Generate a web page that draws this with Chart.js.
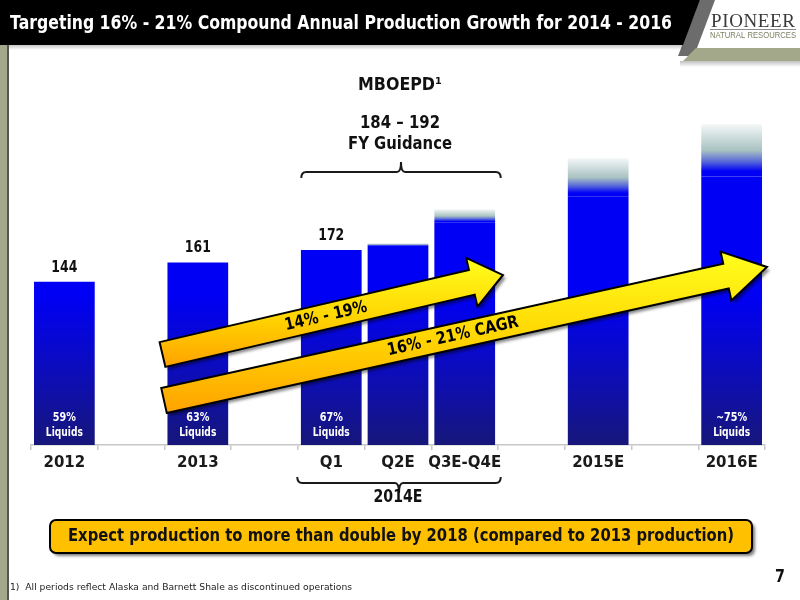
<!DOCTYPE html>
<html lang="en">
<head>
<meta charset="UTF-8">
<title>Targeting 16% - 21% Compound Annual Production Growth for 2014 - 2016</title>
<script src="https://cdn.jsdelivr.net/npm/chart.js"></script>
<style>
  html, body { margin: 0; padding: 0; background: #fff; }
  #wrap { width: 800px; height: 600px; position: relative; }
</style>
</head>
<body>
<div id="wrap"><canvas id="prod-chart"></canvas></div>
<script>
const categories = ['2012', '', '2013', '', 'Q1', 'Q2E', 'Q3E-Q4E', '', '2015E', '', '2016E'];
// solid part of each bar, MBOEPD
const lowValues = [144, null, 161, null, 172, 176, 196, null, 219, null, 237];
// top of the faded guidance range (null = no range)
const highValues = [null, null, null, null, null, 178, 208, null, 253, null, 283];
const valueLabels = ['144', '', '161', '', '172', '', '', '', '', '', ''];
const liquidsLabels = ['59%', '', '63%', '', '67%', '', '', '', '', '', '~75%'];

const rangeValues = highValues.map((h, i) => h === null ? null : h - lowValues[i]);

const FONT = '"DejaVu Sans", Verdana, sans-serif';

// draws text squeezed horizontally (to a target width, or by 0.84)
function fitText(ctx, s, x, y, font, width, color, align) {
    ctx.save();
    ctx.font = font;
    ctx.fillStyle = color;
    ctx.textBaseline = 'middle';
    ctx.textAlign = 'left';
    const w = ctx.measureText(s).width;
    const k = width ? width / w : 0.84;
    const drawn = w * k;
    const left = align === 'left' ? x : (align === 'right' ? x - drawn : x - drawn / 2);
    ctx.translate(left, y);
    ctx.scale(k, 1);
    ctx.fillText(s, 0, 0);
    ctx.restore();
}

function drawArrow(ctx, tail, tip, w, hw, hl) {
    const dx = tip[0] - tail[0], dy = tip[1] - tail[1];
    const len = Math.hypot(dx, dy);
    const ux = dx / len, uy = dy / len, nx = -uy, ny = ux;
    const bx = tip[0] - ux * hl, by = tip[1] - uy * hl;
    const pts = [
        [tail[0] + nx * w, tail[1] + ny * w],
        [bx + nx * w, by + ny * w],
        [bx + nx * hw, by + ny * hw],
        tip,
        [bx - nx * hw, by - ny * hw],
        [bx - nx * w, by - ny * w],
        [tail[0] - nx * w, tail[1] - ny * w]
    ];
    const ys = pts.map(p => p[1]);
    const g = ctx.createLinearGradient(0, Math.min(...ys), 0, Math.max(...ys));
    g.addColorStop(0, '#ffff1e');
    g.addColorStop(0.55, '#ffd400');
    g.addColorStop(1, '#ffa200');
    ctx.save();
    ctx.beginPath();
    pts.forEach((p, i) => i ? ctx.lineTo(p[0], p[1]) : ctx.moveTo(p[0], p[1]));
    ctx.closePath();
    ctx.shadowColor = 'rgba(0,0,0,0.45)';
    ctx.shadowOffsetX = 3;
    ctx.shadowOffsetY = 3;
    ctx.shadowBlur = 3;
    ctx.fillStyle = g;
    ctx.fill();
    ctx.shadowColor = 'transparent';
    ctx.lineWidth = 2;
    ctx.strokeStyle = '#000';
    ctx.lineJoin = 'miter';
    ctx.stroke();
    ctx.restore();
    return Math.atan2(dy, dx);
}

// curly bracket, dir = 1 opens downward (notch up), -1 opens upward (notch down)
function drawBrace(ctx, x1, x2, y, dir) {
    const cx = (x1 + x2) / 2;
    const end = y + 6 * dir, notch = y - 10 * dir;
    ctx.save();
    ctx.strokeStyle = '#1a1a1a';
    ctx.lineWidth = 2;
    ctx.beginPath();
    ctx.moveTo(x1, end);
    ctx.quadraticCurveTo(x1, y, x1 + 5, y);
    ctx.lineTo(cx - 4, y);
    ctx.quadraticCurveTo(cx, y, cx, notch);
    ctx.quadraticCurveTo(cx, y, cx + 4, y);
    ctx.lineTo(x2 - 5, y);
    ctx.quadraticCurveTo(x2, y, x2, end);
    ctx.stroke();
    ctx.restore();
}

const slidePlugin = {
    id: 'slide',
    beforeDraw(chart) {
        const ctx = chart.ctx;
        ctx.save();
        ctx.fillStyle = '#fff';
        ctx.fillRect(0, 0, 800, 600);

        // header bar
        ctx.fillStyle = '#6c6c6c';
        ctx.beginPath();
        ctx.moveTo(700, 0); ctx.lineTo(715, 0); ctx.lineTo(694, 56); ctx.lineTo(678, 56);
        ctx.closePath(); ctx.fill();
        ctx.fillStyle = '#000';
        ctx.beginPath();
        ctx.moveTo(0, 0); ctx.lineTo(700, 0); ctx.lineTo(683, 45); ctx.lineTo(0, 45);
        ctx.closePath(); ctx.fill();

        // olive band under the logo
        const sh = ctx.createLinearGradient(0, 61, 0, 67);
        sh.addColorStop(0, 'rgba(0,0,0,0.25)');
        sh.addColorStop(1, 'rgba(0,0,0,0)');
        ctx.fillStyle = sh;
        ctx.fillRect(680, 61, 120, 6);
        ctx.fillStyle = '#a3a88b';
        ctx.beginPath();
        ctx.moveTo(696, 48); ctx.lineTo(800, 48); ctx.lineTo(800, 61); ctx.lineTo(683, 61);
        ctx.closePath(); ctx.fill();

        // faint shadow under the black bar
        const hs = ctx.createLinearGradient(0, 45, 0, 50);
        hs.addColorStop(0, 'rgba(0,0,0,0.22)');
        hs.addColorStop(1, 'rgba(0,0,0,0)');
        ctx.fillStyle = hs;
        ctx.fillRect(0, 45, 683, 5);

        // left edge stripe
        ctx.fillStyle = '#a3a88b';
        ctx.fillRect(0, 45, 7, 555);
        ctx.fillStyle = '#555';
        ctx.fillRect(7, 45, 2, 555);
        ctx.restore();

        fitText(ctx, 'Targeting 16% - 21% Compound Annual Production Growth for 2014 - 2016',
            10, 24, 'bold 19px ' + FONT, 662, '#fff', 'left');

        // logo
        ctx.save();
        ctx.font = '19px "Liberation Serif", "DejaVu Serif", serif';
        ctx.fillStyle = '#3a3a3a';
        ctx.textBaseline = 'alphabetic';
        ctx.textAlign = 'left';
        const letters = 'PIONEER'.split('');
        const lw = letters.map(c => ctx.measureText(c).width);
        const gap = (84 - lw.reduce((a, b) => a + b, 0)) / (letters.length - 1);
        let lx = 711;
        letters.forEach((c, i) => { ctx.fillText(c, lx, 27); lx += lw[i] + gap; });
        ctx.fillStyle = '#8a8a8a';
        ctx.fillRect(710, 29, 86, 1);
        ctx.restore();
        fitText(ctx, 'NATURAL RESOURCES', 710, 36, '9px "Liberation Sans", Arial, sans-serif', 86, '#7b8163', 'left');
    },
    afterDatasetsDraw(chart) {
        const ctx = chart.ctx;
        const x = chart.scales.x;
        const area = chart.chartArea;
        const base = chart.getDatasetMeta(0).data;

        // labels on and above bars
        base.forEach((bar, i) => {
            if (lowValues[i] === null) return;
            if (valueLabels[i]) {
                fitText(ctx, valueLabels[i], bar.x, bar.y - 14, 'bold 15px ' + FONT, 26, '#111', 'center');
            }
            if (liquidsLabels[i]) {
                fitText(ctx, liquidsLabels[i], bar.x, area.bottom - 27, 'bold 11.5px ' + FONT, null, '#fff', 'center');
                fitText(ctx, 'Liquids', bar.x, area.bottom - 12, 'bold 11.5px ' + FONT, 37, '#fff', 'center');
            }
        });

        fitText(ctx, 'MBOEPD\u00b9', 400, 86, 'bold 17px ' + FONT, 84, '#111', 'center');
        fitText(ctx, '184 \u2013 192', 400, 124, 'bold 17px ' + FONT, 80, '#111', 'center');
        fitText(ctx, 'FY Guidance', 400, 145, 'bold 17px ' + FONT, 104, '#111', 'center');

        drawBrace(ctx, x.getPixelForValue(4) - 30, x.getPixelForValue(6) + 36, 172, 1);
        drawBrace(ctx, x.getPixelForValue(4) - 34, x.getPixelForValue(6) + 36, 483, -1);
        fitText(ctx, '2014E', 398, 498, 'bold 17px ' + FONT, 49, '#111', 'center');

        // growth arrows
        const a1 = drawArrow(ctx, [162.5, 354.5], [503, 275], 12.7, 25, 32);
        const a2 = drawArrow(ctx, [164, 400.5], [767, 267], 12.7, 25, 42);
        ctx.save();
        ctx.translate(326, 316.5);
        ctx.rotate(a1);
        fitText(ctx, '14% - 19%', 0, 0, 'bold 17px ' + FONT, 84, '#000', 'center');
        ctx.restore();
        ctx.save();
        ctx.translate(453, 336.5);
        ctx.rotate(a2);
        fitText(ctx, '16% - 21% CAGR', 0, 0, 'bold 17px ' + FONT, 134, '#000', 'center');
        ctx.restore();

        // call-out box
        ctx.save();
        ctx.beginPath();
        ctx.roundRect(50, 520, 702, 33, 6);
        ctx.shadowColor = 'rgba(0,0,0,0.5)';
        ctx.shadowOffsetX = 3;
        ctx.shadowOffsetY = 3;
        ctx.shadowBlur = 3;
        ctx.fillStyle = '#ffc000';
        ctx.fill();
        ctx.shadowColor = 'transparent';
        ctx.lineWidth = 2;
        ctx.strokeStyle = '#000';
        ctx.stroke();
        ctx.restore();
        fitText(ctx, 'Expect production to more than double by 2018 (compared to 2013 production)',
            401, 537, 'bold 17px ' + FONT, 666, '#111', 'center');

        fitText(ctx, '7', 780, 578, 'bold 17px ' + FONT, null, '#111', 'center');
        fitText(ctx, '1)  All periods reflect Alaska and Barnett Shale as discontinued operations',
            10, 588, '9.5px ' + FONT, 342, '#222', 'left');
    }
};

function baseColor(context) {
    const area = context.chart.chartArea;
    if (!area) return '#0000f5';
    const g = context.chart.ctx.createLinearGradient(0, area.bottom, 0, area.bottom - 150);
    g.addColorStop(0, '#16167a');
    g.addColorStop(0.5, '#0c0cbc');
    g.addColorStop(1, '#0000f5');
    return g;
}

function rangeColor(context) {
    const chart = context.chart;
    const i = context.dataIndex;
    if (!chart.chartArea || highValues[i] === null) return '#0000f5';
    const y = chart.scales.y;
    const top = y.getPixelForValue(highValues[i]);
    const bottom = y.getPixelForValue(lowValues[i]);
    const g = chart.ctx.createLinearGradient(0, top, 0, bottom);
    g.addColorStop(0, '#f4f7f7');
    g.addColorStop(0.5, '#a9c2c2');
    g.addColorStop(0.72, '#5666da');
    g.addColorStop(0.9, '#0000f5');
    g.addColorStop(1, '#0000f5');
    return g;
}

new Chart(document.getElementById('prod-chart'), {
    type: 'bar',
    data: {
        labels: categories,
        datasets: [
            { label: 'MBOEPD', data: lowValues, backgroundColor: baseColor, borderWidth: 0 },
            { label: 'Range', data: rangeValues, backgroundColor: rangeColor, borderWidth: 0 }
        ]
    },
    options: {
        responsive: true,
        maintainAspectRatio: false,
        animation: false,
        layout: { padding: { left: 31, right: 35, top: 105, bottom: 0 } },
        datasets: { bar: { categoryPercentage: 1, barPercentage: 0.91 } },
        plugins: { legend: { display: false }, tooltip: { enabled: false } },
        scales: {
            x: {
                stacked: true,
                grid: { offset: true, drawOnChartArea: false, tickLength: 5, color: '#c8c8c8', lineWidth: 1.5 },
                border: { color: '#c8c8c8', width: 1.5 },
                ticks: { color: '#1a1a1a', font: { family: FONT, weight: 'bold', size: 15 }, padding: 4, autoSkip: false, maxRotation: 0 },
                afterFit(scale) { scale.height = 155; }
            },
            y: { stacked: true, display: false, min: 0, max: 300 }
        }
    },
    plugins: [slidePlugin]
});
</script>
</body>
</html>
